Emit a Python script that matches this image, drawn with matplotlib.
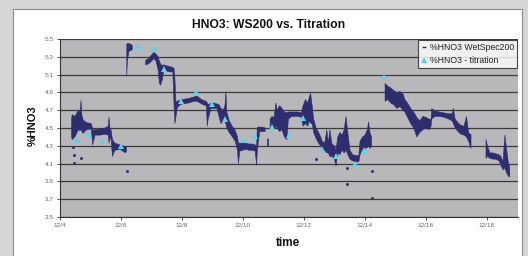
import numpy as np
import matplotlib
matplotlib.use("Agg")
import matplotlib.pyplot as plt
from matplotlib.patches import Rectangle

plt.rcParams['font.family'] = ['Liberation Sans', 'DejaVu Sans']

nan = np.nan

# WetSpec200 readings: time in days after 12/4, low/high edge of the trace band
# (nan splits the trace where there is no data)
ws_t = [0.38, 0.40, 0.49, 0.60, 0.66, 0.69, 0.72, 0.76, 0.87, 1.02, 1.05, 1.07, 1.15, 1.31, 1.48, 1.58,
        1.61, 1.64, 1.68, 1.72, 1.80, 1.97, 2.15, 2.18, nan,
        2.19, 2.21, 2.26, 2.32, 2.37, nan,
        2.81, 2.90, 3.00, 3.08, 3.15, 3.22, 3.26, 3.30, 3.36, 3.40, 3.50, 3.60, 3.70, 3.74, 3.77, 3.80,
        3.84, 3.90, 4.00, 4.20, 4.40, 4.50, 4.60, 4.70, 4.80, 4.83, 4.86, 4.95, 5.05, 5.15, 5.22, 5.28,
        5.35, 5.41, 5.44, 5.47, 5.55, 5.65, 5.75, 5.82, 5.85, 5.90, 6.00, 6.10, 6.20, 6.30, 6.40, 6.45,
        6.47, 6.55, 6.65, 6.73, nan,
        6.80, 6.84, nan,
        6.89, 6.95, 7.02, 7.08, 7.12, 7.20, 7.28, 7.36, 7.44, 7.49, 7.60, 7.70, 7.80, 7.92, 7.97, 8.05,
        8.12, 8.18, 8.22, 8.27, 8.32, 8.40, 8.48, 8.55, 8.60, 8.68, 8.75, 8.80, 8.85, 8.92, 9.00, 9.05,
        9.11, 9.18, 9.25, 9.32, 9.38, 9.44, 9.51, 9.60, 9.70, 9.80, 9.84, 9.92, 10.00, 10.08, 10.12,
        10.17, 10.22, nan,
        10.66, 10.75, 10.85, 10.95, 11.05, 11.15, 11.25, 11.31, 11.40, 11.50, 11.60, 11.70, 11.80, 11.90,
        12.00, 12.10, 12.17, 12.19, 12.30, 12.45, 12.60, 12.75, 12.86, 12.90, 12.96, 13.05, 13.15, 13.25,
        13.33, 13.40, 13.48, nan,
        13.97, 14.02, 14.10, 14.20, 14.30, 14.40, 14.46, 14.53, 14.59, 14.64, 14.70, 14.75]
ws_lo = [4.40, 4.37, 4.40, 4.48, 4.47, 4.48, 4.46, 4.44, 4.48, 4.49, 4.40, 4.31, 4.42, 4.42, 4.43, 4.42,
         4.33, 4.40, 4.36, 4.18, 4.25, 4.26, 4.22, 4.24, nan,
         5.08, 5.25, 5.36, 5.37, 5.38, nan,
         5.21, 5.22, 5.25, 5.28, 5.25, 5.15, 5.00, 4.98, 5.05, 5.14, 5.14, 5.13, 5.13, 4.75, 4.55, 4.62,
         4.72, 4.75, 4.77, 4.78, 4.80, 4.80, 4.78, 4.76, 4.75, 4.52, 4.60, 4.72, 4.72, 4.72, 4.62, 4.55,
         4.58, 4.57, 4.55, 4.50, 4.45, 4.40, 4.35, 4.25, 4.10, 4.24, 4.25, 4.26, 4.25, 4.25, 4.24, 4.08,
         4.25, 4.46, 4.46, 4.46, nan,
         4.29, 4.30, nan,
         4.48, 4.50, 4.48, 4.52, 4.50, 4.46, 4.48, 4.40, 4.37, 4.60, 4.63, 4.63, 4.63, 4.62, 4.52, 4.55,
         4.52, 4.58, 4.55, 4.55, 4.45, 4.38, 4.33, 4.30, 4.25, 4.25, 4.22, 4.22, 4.18, 4.18, 4.15, 4.07,
         4.22, 4.20, 4.25, 4.22, 4.25, 4.20, 4.15, 4.13, 4.12, 4.12, 4.20, 4.25, 4.27, 4.28, 4.30,
         4.27, 4.30, nan,
         4.80, 4.82, 4.78, 4.76, 4.72, 4.74, 4.70, 4.68, 4.62, 4.55, 4.50, 4.40, 4.45, 4.48,
         4.50, 4.48, 4.52, 4.60, 4.63, 4.63, 4.62, 4.60, 4.58, 4.55, 4.50, 4.46, 4.43, 4.42,
         4.40, 4.35, 4.27, nan,
         4.16, 4.18, 4.16, 4.15, 4.15, 4.13, 4.08, 4.03, 4.05, 4.00, 3.96, 3.95]
ws_hi = [4.60, 4.65, 4.63, 4.70, 4.68, 4.81, 4.64, 4.59, 4.56, 4.55, 4.52, 4.48, 4.48, 4.49, 4.50, 4.52,
         4.62, 4.50, 4.47, 4.37, 4.33, 4.31, 4.29, 4.28, nan,
         5.44, 5.45, 5.45, 5.44, 5.43, nan,
         5.26, 5.28, 5.32, 5.35, 5.33, 5.30, 5.25, 5.22, 5.20, 5.21, 5.20, 5.19, 5.18, 5.17, 5.05, 4.80,
         4.80, 4.81, 4.82, 4.83, 4.85, 4.86, 4.83, 4.81, 4.80, 4.78, 4.76, 4.78, 4.78, 4.77, 4.76, 4.72,
         4.70, 4.75, 4.91, 4.68, 4.58, 4.52, 4.47, 4.40, 4.33, 4.33, 4.33, 4.33, 4.32, 4.32, 4.31, 4.30,
         4.51, 4.51, 4.51, 4.50, nan,
         4.37, 4.38, nan,
         4.60, 4.63, 4.62, 4.78, 4.70, 4.75, 4.72, 4.68, 4.67, 4.68, 4.68, 4.68, 4.68, 4.67, 4.75, 4.82,
         4.78, 4.85, 4.89, 4.75, 4.60, 4.50, 4.45, 4.40, 4.35, 4.33, 4.48, 4.33, 4.48, 4.32, 4.30, 4.25,
         4.40, 4.45, 4.42, 4.48, 4.63, 4.45, 4.25, 4.20, 4.19, 4.19, 4.35, 4.40, 4.42, 4.48, 4.57,
         4.44, 4.40, nan,
         5.00, 4.97, 4.95, 4.92, 4.90, 4.91, 4.88, 4.82, 4.78, 4.72, 4.68, 4.62, 4.58, 4.63,
         4.62, 4.60, 4.60, 4.72, 4.69, 4.68, 4.67, 4.66, 4.66, 4.72, 4.60, 4.56, 4.53, 4.52,
         4.63, 4.45, 4.42, nan,
         4.37, 4.30, 4.22, 4.22, 4.21, 4.20, 4.18, 4.12, 4.42, 4.28, 4.12, 4.05]

# stray WetSpec200 points
out_t = [0.44, 0.46, 0.46, 0.68, 2.19, 8.40, 9.42, 9.42, 10.22, 10.22]
out_v = [4.29, 4.20, 4.11, 4.16, 4.02, 4.15, 4.05, 3.87, 4.02, 3.71]

# titration samples
tit_t = [0.55, 0.93, 1.37, 1.99, 2.55, 3.09, 3.41, 3.97, 4.45, 5.00, 5.42, 6.03, 6.40, 6.96, 7.52,
         7.98, 8.58, 9.05, 9.69, 9.98, 10.62]
tit_v = [4.37, 4.43, 4.35, 4.30, 5.42, 5.40, 5.16, 4.80, 4.90, 4.77, 4.60, 4.37, 4.41, 4.51, 4.42,
         4.61, 4.26, 4.19, 4.10, 4.25, 5.07]

xtick_pos = [0, 2, 4, 6, 8, 10, 12, 14]
xtick_lab = ["12/4", "12/6", "12/8", "12/10", "12/12", "12/14", "12/16", "12/18"]
ytick_pos = [3.5, 3.7, 3.9, 4.1, 4.3, 4.5, 4.7, 4.9, 5.1, 5.3, 5.5]

navy = '#2d2d70'
cyan = '#5ad4e6'

fig = plt.figure(figsize=(5.28, 2.56), dpi=100)
fig.patch.set_facecolor('#d6d6d6')
fig.patches.append(Rectangle((13 / 528, -0.05), (522 - 13) / 528, 1.05 - 9 / 256,
                             transform=fig.transFigure, facecolor='white',
                             edgecolor='#8a8a8a', linewidth=0.8, zorder=-5))

ax = fig.add_axes([60 / 528, 1 - 217 / 256, (518 - 60) / 528, (217 - 39) / 256])
ax.set_facecolor('#b8b8bb')

ax.fill_between(ws_t, ws_lo, ws_hi, color=navy, linewidth=0.4, edgecolor=navy, zorder=3)
ax.plot(out_t, out_v, linestyle='none', marker='s', markersize=1.0, color=navy, zorder=3)
ax.plot([], [], linestyle='none', marker='_', markersize=3, color=navy, label='%HNO3 WetSpec200')
ax.plot(tit_t, tit_v, linestyle='none', marker='^', markersize=3.8, color=cyan,
        markeredgewidth=0, zorder=4, label='%HNO3 - titration')

ax.set_xlim(0, 15.02)
ax.set_ylim(3.5, 5.5)
ax.set_xticks(xtick_pos)
ax.set_xticklabels(xtick_lab)
ax.set_yticks(ytick_pos)
ax.set_yticklabels([f"{v:.1f}" for v in ytick_pos])
ax.tick_params(axis='both', labelsize=4.6, colors='#333333', labelcolor='#666666',
               length=2.5, width=0.6, pad=2)
ax.yaxis.grid(True, color='#3a3a3a', linewidth=0.9)
ax.set_axisbelow(True)
for side in ['top', 'right']:
    ax.spines[side].set_visible(False)
for side in ['left', 'bottom']:
    ax.spines[side].set_color('#333333')
    ax.spines[side].set_linewidth(0.8)

fig.text(269 / 528, 1 - 25 / 256, "HNO3: WS200 vs. Titration", ha='center', va='center',
         fontsize=8.7, fontweight='bold', color='#111111')
fig.text(33 / 528, 1 - 126 / 256, "%HNO3", ha='center', va='center', rotation=90,
         fontsize=8, fontweight='bold', color='#111111')
fig.text(288 / 528, 1 - 243 / 256, "time", ha='center', va='center',
         fontsize=8.5, fontweight='bold', color='#111111')

leg = ax.legend(loc='upper right', bbox_to_anchor=(517 / 528, 1 - 40 / 256),
                bbox_transform=fig.transFigure, borderaxespad=0, fontsize=6.3,
                frameon=True, fancybox=False, handlelength=0.6, handletextpad=0.4,
                borderpad=0.35, labelspacing=0.45, markerscale=1.0)
leg.get_frame().set_edgecolor('#222222')
leg.get_frame().set_linewidth(0.8)
for txt in leg.get_texts():
    txt.set_color('#222222')

fig.savefig("out.png", dpi=100, facecolor=fig.get_facecolor())
